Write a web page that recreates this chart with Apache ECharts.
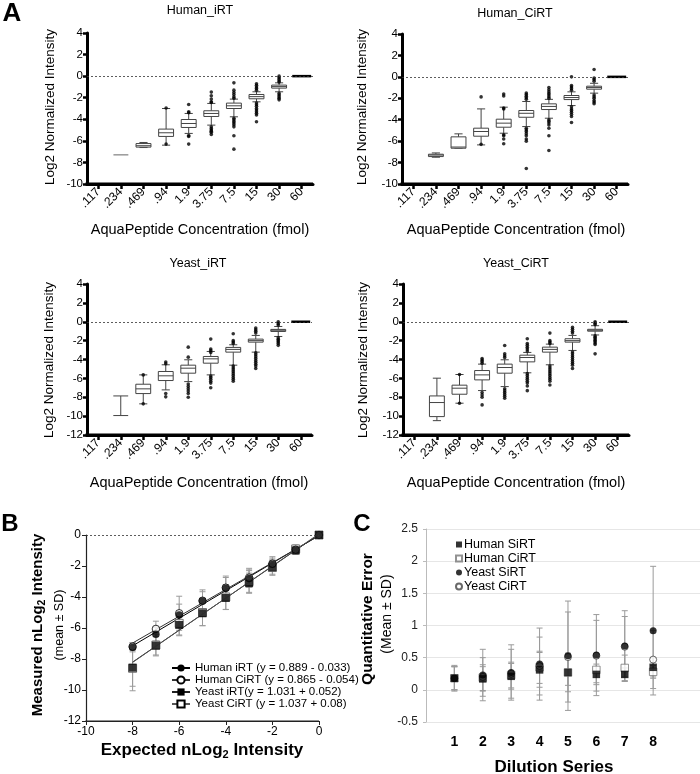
<!DOCTYPE html>
<html><head><meta charset="utf-8">
<script src="https://cdn.jsdelivr.net/npm/echarts@6/dist/echarts.min.js"></script>
<style>html,body{margin:0;padding:0;background:#fff}#c{width:700px;height:774px}</style>
</head><body><div id="c"></div>
<script>
const FONT = '"Liberation Sans", Arial, Helvetica, sans-serif';

// ---------- Panel A ----------
const concLabels = ['.117', '.234', '.469', '.94', '1.9', '3.75', '7.5', '15', '30', '60'];
const aTitles = ['Human_iRT', 'Human_CiRT', 'Yeast_iRT', 'Yeast_CiRT'];
const aYRangeTop = [-10, 4];
const aYRangeBottom = [-12, 4];

// [min, q1, median, q3, max] per concentration
const humanIRTBoxes = [
  null,
  [-7.3, -7.3, -7.3, -7.3, -7.3],
  [-6.62, -6.58, -6.45, -6.25, -6.15],
  [-6.4, -5.59, -5.25, -4.91, -3.0],
  [-5.31, -4.76, -4.39, -4.02, -3.46],
  [-4.54, -3.74, -3.46, -3.21, -2.53],
  [-3.77, -3.0, -2.75, -2.5, -2.13],
  [-2.38, -2.1, -1.9, -1.7, -1.45],
  [-1.45, -1.11, -0.97, -0.83, -0.62],
  [0, 0, 0, 0, 0]
];
const humanIRTOutliers = [
  [], [], [],
  [-2.95, -6.3],
  [-2.63, -3.3, -3.4, -5.5, -5.6, -6.3],
  [-1.48, -1.82, -2.13, -2.38, -2.45, -4.7, -4.85, -5.0, -5.1, -5.2, -5.4],
  [-0.62, -1.3, -1.51, -1.7, -1.92, -2.05, -3.9, -4.05, -4.2, -4.35, -4.5, -4.7, -5.53, -6.77],
  [-0.7, -0.85, -1.0, -1.15, -1.3, -2.5, -2.65, -2.8, -3.0, -3.15, -3.3, -3.45, -3.6, -4.23],
  [0.0, -0.15, -0.3, -0.45, -0.55, -1.6, -1.75, -1.9, -2.05, -2.2],
  []
];
const humanCiRTBoxes = [
  null,
  [-7.5, -7.44, -7.3, -7.22, -7.1],
  [-6.66, -6.66, -6.55, -5.6, -5.32],
  [-6.35, -5.54, -5.1, -4.79, -2.99],
  [-5.26, -4.7, -4.32, -3.95, -2.83],
  [-4.64, -3.77, -3.4, -3.14, -2.3],
  [-3.86, -3.05, -2.76, -2.52, -2.1],
  [-2.68, -2.12, -1.93, -1.74, -1.4],
  [-1.52, -1.15, -1.0, -0.87, -0.6],
  [0, 0, 0, 0, 0]
];
const humanCiRTOutliers = [
  [], [], [],
  [-1.87, -6.3],
  [-1.6, -1.78, -2.9, -3.0, -5.4, -5.5, -5.8, -6.25],
  [-1.5, -1.65, -1.8, -1.95, -2.1, -4.8, -4.95, -5.1, -5.3, -5.5, -5.8, -6.0, -8.56],
  [-1.0, -1.2, -1.4, -1.55, -1.7, -1.85, -2.0, -4.0, -4.15, -4.3, -4.5, -4.8, -5.5, -6.88],
  [0.0, -0.8, -0.95, -1.1, -1.25, -2.8, -3.0, -3.15, -3.3, -3.5, -3.7, -4.26],
  [0.68, -0.1, -0.25, -0.4, -1.7, -1.85, -2.0, -2.2, -2.35, -2.5],
  []
];
const yeastIRTBoxes = [
  null,
  [-9.94, -7.86, -7.86, -7.86, -7.86],
  [-8.7, -7.61, -7.11, -6.62, -5.63],
  [-7.22, -6.23, -5.73, -5.27, -4.56],
  [-6.34, -5.45, -4.92, -4.6, -4.03],
  [-5.63, -4.39, -3.93, -3.68, -3.15],
  [-4.6, -3.22, -2.93, -2.72, -2.44],
  [-3.22, -2.16, -2.0, -1.84, -1.45],
  [-1.56, -1.03, -0.9, -0.81, -0.5],
  [0, 0, 0, 0, 0]
];
const yeastIRTOutliers = [
  [], [],
  [-5.63, -8.7],
  [-4.27, -4.45, -7.6, -7.96],
  [-2.69, -3.75, -6.6, -6.85, -7.1, -7.35, -7.6, -8.0],
  [-1.84, -2.9, -3.05, -3.25, -5.75, -5.9, -6.1, -6.3, -6.5, -7.0],
  [-1.27, -2.0, -2.15, -2.3, -4.7, -4.9, -5.1, -5.3, -5.5, -5.7, -5.9, -6.1, -6.3],
  [-0.67, -0.85, -1.0, -1.2, -3.3, -3.5, -3.7, -3.9, -4.1, -4.3, -4.5, -4.7, -4.95],
  [0.0, -0.2, -0.35, -1.7, -1.85, -2.0, -2.15, -2.3, -2.5],
  []
];
const yeastCiRTBoxes = [
  null,
  [-10.48, -10.05, -8.56, -7.86, -5.98],
  [-8.63, -7.68, -7.04, -6.72, -5.59],
  [-7.29, -6.16, -5.63, -5.17, -4.49],
  [-6.87, -5.45, -4.85, -4.49, -4.03],
  [-5.41, -4.25, -3.79, -3.54, -3.25],
  [-4.56, -3.22, -2.93, -2.69, -2.37],
  [-3.04, -2.16, -2.0, -1.8, -1.45],
  [-1.4, -1.0, -0.9, -0.8, -0.42],
  [0, 0, 0, 0, 0]
];
const yeastCiRTOutliers = [
  [], [],
  [-5.59, -8.63],
  [-3.9, -4.05, -4.2, -4.4, -7.5, -7.75, -8.0, -8.81],
  [-2.51, -3.4, -3.6, -3.8, -7.1, -7.3, -7.5, -7.7, -7.9, -8.1],
  [-1.8, -2.3, -2.5, -2.7, -2.9, -3.1, -5.5, -5.7, -5.9, -6.1, -6.3, -6.5, -6.8, -7.3],
  [-1.2, -2.0, -2.15, -2.3, -4.7, -4.9, -5.1, -5.3, -5.5, -5.7, -5.9, -6.1, -6.3, -6.7],
  [-0.6, -0.8, -1.0, -1.2, -3.2, -3.4, -3.6, -3.8, -4.0, -4.2, -4.4, -4.6, -4.95],
  [0.0, -0.15, -0.3, -1.5, -1.65, -1.8, -1.95, -2.1, -2.25, -2.4, -3.4],
  []
];

// ---------- Panel B ----------
const expectedX = [-8, -7, -6, -5, -4, -3, -2, -1, 0];
const bNames = ['Human iRT (y = 0.889 - 0.033)', 'Human CiRT (y = 0.865 - 0.054)', 'Yeast iRT(y = 1.031 + 0.052)', 'Yeast CiRT (y = 1.037 + 0.08)'];
const bHumanIRT = [-7.24, -6.4, -5.16, -4.26, -3.44, -2.8, -1.89, -0.97, 0];
const bHumanCiRT = [-7.2, -6.06, -5.05, -4.24, -3.4, -2.75, -1.85, -0.95, 0];
const bYeastIRT = [-8.56, -7.14, -5.8, -5.05, -4.06, -3.11, -2.08, -1.0, 0];
const bYeastCiRT = [-8.6, -7.1, -5.7, -5.0, -4.0, -3.0, -2.1, -0.9, 0];
const bHumanIRTSD = [0.3, 0.45, 0.7, 0.6, 0.7, 0.55, 0.4, 0.2, 0];
const bHumanCiRTSD = [0.25, 0.5, 1.1, 0.7, 0.75, 0.6, 0.45, 0.2, 0];
const bYeastIRTSD = [1.2, 0.6, 0.7, 0.8, 0.75, 0.65, 0.45, 0.25, 0];
const bYeastCiRTSD = [1.45, 0.7, 0.75, 0.85, 0.8, 0.7, 0.5, 0.25, 0];
const fitX = [-8, 0];
const fitHumanIRT = [-7.15, -0.03];
const fitHumanCiRT = [-6.97, -0.05];
const fitYeastIRT = [-8.2, 0.05];
const fitYeastCiRT = [-8.22, 0.08];

// ---------- Panel C ----------
const dilution = [1, 2, 3, 4, 5, 6, 7, 8];
const cNames = ['Human SiRT', 'Human CiRT', 'Yeast SiRT', 'Yeast CiRT'];
const cHumanSiRT = [0.18, 0.17, 0.21, 0.31, 0.27, 0.24, 0.24, 0.35];
const cHumanCiRT = [0.18, 0.19, 0.23, 0.35, 0.27, 0.31, 0.34, 0.28];
const cYeastSiRT = [0.18, 0.23, 0.27, 0.40, 0.53, 0.54, 0.68, 0.92];
const cYeastCiRT = [0.18, 0.20, 0.25, 0.37, 0.51, 0.53, 0.67, 0.47];
const cHumanSiRTSD = [0.18, 0.19, 0.2, 0.27, 0.2, 0.16, 0.1, 0.15];
const cHumanCiRTSD = [0.18, 0.2, 0.2, 0.25, 0.3, 0.2, 0.2, 0.1];
const cYeastSiRTSD = [0.2, 0.4, 0.43, 0.56, 0.85, 0.63, 0.55, 1.0];
const cYeastCiRTSD = [0.18, 0.3, 0.38, 0.45, 0.7, 0.55, 0.47, 0.45];

// ---------- rendering helpers ----------
function ln(x1, y1, x2, y2, stroke, w) {
  return { type: 'line', shape: { x1, y1, x2, y2 }, style: { stroke: stroke, lineWidth: w || 1 } };
}
function renderBox(params, api) {
  const i = api.value(0);
  const v = [1, 2, 3, 4, 5].map(k => api.value(k));
  const p = v.map(val => api.coord([i, val]));
  const cx = p[0][0];
  const band = api.size([1, 0])[0];
  const bw = band * 0.66, cw = band * 0.36;
  const col = '#444';
  const ch = [];
  if (v[0] === v[4]) {
    const zero = v[0] === 0;
    ch.push(ln(cx - bw / 2 - (zero ? 2 : 0), p[0][1], cx + bw / 2 + (zero ? 2 : 0), p[0][1], zero ? '#000' : '#666', zero ? 2.5 : 1));
    return { type: 'group', children: ch };
  }
  const degenerate = v[1] === v[3];
  const capW = degenerate ? bw : cw;
  ch.push(ln(cx, p[4][1], cx, p[3][1], col));
  ch.push(ln(cx, p[1][1], cx, p[0][1], col));
  ch.push(ln(cx - capW / 2, p[4][1], cx + capW / 2, p[4][1], col));
  ch.push(ln(cx - capW / 2, p[0][1], cx + capW / 2, p[0][1], col));
  if (!degenerate) {
    ch.push({ type: 'rect', shape: { x: cx - bw / 2, y: p[3][1], width: bw, height: p[1][1] - p[3][1] },
      style: { fill: '#fff', stroke: col, lineWidth: 1 } });
    ch.push(ln(cx - bw / 2, p[2][1], cx + bw / 2, p[2][1], col));
  }
  return { type: 'group', children: ch };
}
function renderErr(params, api) {
  const x = api.value(0), m = api.value(1), s = api.value(2);
  if (!s) return null;
  const t = api.coord([x, m + s]), b = api.coord([x, m - s]);
  const c = '#9a9a9a', cw = 3;
  return { type: 'group', children: [
    ln(t[0], t[1], b[0], b[1], c),
    ln(t[0] - cw, t[1], t[0] + cw, t[1], c),
    ln(b[0] - cw, b[1], b[0] + cw, b[1], c)
  ] };
}

const grids = [
  { left: 87, top: 33, width: 226, height: 151 },
  { left: 402, top: 34, width: 226, height: 150 },
  { left: 87, top: 284, width: 225, height: 151 },
  { left: 403, top: 284, width: 226, height: 151 },
  { left: 86, top: 535, width: 233, height: 186 },
  { left: 426, top: 529, width: 274, height: 193 }
];

const xAxes = [], yAxes = [], series = [];
const aBoxes = [humanIRTBoxes, humanCiRTBoxes, yeastIRTBoxes, yeastCiRTBoxes];
const aOuts = [humanIRTOutliers, humanCiRTOutliers, yeastIRTOutliers, yeastCiRTOutliers];
for (let g = 0; g < 4; g++) {
  const yr = g < 2 ? aYRangeTop : aYRangeBottom;
  xAxes.push({
    type: 'category', gridIndex: g, data: concLabels,
    axisLine: { show: true, onZero: false, lineStyle: { color: '#000', width: 3 } },
    axisTick: { show: true, alignWithLabel: true, length: 5, lineStyle: { color: '#000', width: 2.5 } },
    axisLabel: { rotate: 45, fontSize: 12, color: '#000', margin: 6, fontFamily: FONT, interval: 0 }
  });
  yAxes.push({
    type: 'value', gridIndex: g, min: yr[0], max: yr[1], interval: 2,
    axisLine: { show: true, onZero: false, lineStyle: { color: '#000', width: 3 } },
    axisTick: { show: true, length: 4, lineStyle: { color: '#000', width: 2.5 } },
    axisLabel: { fontSize: 11.5, color: '#000', margin: 4, fontFamily: FONT },
    splitLine: { show: false }
  });
  const bd = [];
  aBoxes[g].forEach((b, i) => { if (b) bd.push([i].concat(b)); });
  series.push({ type: 'custom', xAxisIndex: g, yAxisIndex: g, renderItem: renderBox, data: bd,
    encode: { x: 0, y: [1, 2, 3, 4, 5] }, z: 2, silent: true });
  const od = [];
  aOuts[g].forEach((arr, i) => arr.forEach(v => od.push([i, v])));
  series.push({ type: 'scatter', xAxisIndex: g, yAxisIndex: g, data: od, symbol: 'circle', symbolSize: 3.6,
    itemStyle: { color: '#000' }, z: 3, silent: true,
    markLine: { silent: true, symbol: 'none', label: { show: false },
      data: [{ yAxis: 0, lineStyle: { type: [2, 2], color: '#333', width: 0.8 } }] } });
}

// Panel B axes
xAxes.push({ type: 'value', gridIndex: 4, min: -10, max: 0, interval: 2,
  axisLine: { show: true, onZero: false, lineStyle: { color: '#222', width: 1.2 } },
  axisTick: { show: true, length: 4, lineStyle: { color: '#222' } },
  axisLabel: { fontSize: 12, color: '#000', margin: 5, fontFamily: FONT },
  splitLine: { show: false } });
yAxes.push({ type: 'value', gridIndex: 4, min: -12, max: 0, interval: 2,
  axisLine: { show: true, onZero: false, lineStyle: { color: '#222', width: 1.2 } },
  axisTick: { show: true, length: 4, lineStyle: { color: '#222' } },
  axisLabel: { fontSize: 12, color: '#000', margin: 5, fontFamily: FONT },
  splitLine: { show: false } });

const bMeans = [bHumanIRT, bHumanCiRT, bYeastIRT, bYeastCiRT];
const bSDs = [bHumanIRTSD, bHumanCiRTSD, bYeastIRTSD, bYeastCiRTSD];
const bFits = [fitHumanIRT, fitHumanCiRT, fitYeastIRT, fitYeastCiRT];
const bSymbols = ['circle', 'circle', 'rect', 'rect'];
const bFill = ['#000', '#fff', '#000', '#fff'];
const bLineCol = ['#000', '#333', '#222', '#555'];
for (let k = 0; k < 4; k++) {
  series.push({ type: 'custom', xAxisIndex: 4, yAxisIndex: 4, renderItem: renderErr, silent: true, z: 2,
    data: expectedX.map((x, i) => [x, bMeans[k][i], bSDs[k][i]]), encode: { x: 0, y: 1 } });
}
for (let k = 0; k < 4; k++) {
  series.push({ type: 'line', name: bNames[k], xAxisIndex: 4, yAxisIndex: 4, z: 3, silent: true,
    data: fitX.map((x, i) => [x, bFits[k][i]]), showSymbol: false, symbol: bSymbols[k],
    itemStyle: { color: bFill[k], borderColor: '#000', borderWidth: bFill[k] === '#fff' ? 1 : 0 },
    lineStyle: { color: bLineCol[k], width: 1 }, animation: false,
    markLine: k === 0 ? { silent: true, symbol: 'none', label: { show: false },
      data: [{ yAxis: 0, lineStyle: { type: [2, 2], color: '#333', width: 0.8 } }] } : undefined });
}
const bOrder = [3, 2, 1, 0];
bOrder.forEach(k => {
  series.push({ type: 'scatter', name: 'pts' + k, xAxisIndex: 4, yAxisIndex: 4, z: 4, silent: true,
    data: expectedX.map((x, i) => [x, bMeans[k][i]]), symbol: bSymbols[k], symbolSize: bSymbols[k] === 'rect' ? 8 : 7.5,
    itemStyle: { color: bFill[k], borderColor: k === 3 ? '#555' : '#000', borderWidth: bFill[k] === '#fff' ? 1 : 0 } });
});

// Panel C axes
xAxes.push({ type: 'value', gridIndex: 5, min: 0, max: 9.65, interval: 1,
  axisLine: { show: false, onZero: false }, axisTick: { show: false }, splitLine: { show: false },
  axisLabel: { fontSize: 14, fontWeight: 'bold', color: '#000', margin: 13, fontFamily: FONT,
    formatter: v => (v >= 1 && v <= 8 ? String(v) : ''), showMaxLabel: false } });
yAxes.push({ type: 'value', gridIndex: 5, min: -0.5, max: 2.5, interval: 0.5,
  axisLine: { show: true, onZero: false, lineStyle: { color: '#bbb', width: 1 } },
  axisTick: { show: true, length: 3, lineStyle: { color: '#bbb' } },
  axisLabel: { fontSize: 12, color: '#222', margin: 8, fontFamily: FONT },
  splitLine: { show: true, lineStyle: { color: '#e6e6e6', width: 1 } } });

const cMeans = [cHumanSiRT, cHumanCiRT, cYeastSiRT, cYeastCiRT];
const cSDs = [cHumanSiRTSD, cHumanCiRTSD, cYeastSiRTSD, cYeastCiRTSD];
const cSym = ['rect', 'rect', 'circle', 'circle'];
const cFill = ['#000', '#fff', '#000', '#fff'];
for (let k = 0; k < 4; k++) {
  series.push({ type: 'custom', xAxisIndex: 5, yAxisIndex: 5, renderItem: renderErr, silent: true, z: 2,
    data: dilution.map((x, i) => [x, cMeans[k][i], cSDs[k][i]]), encode: { x: 0, y: 1 } });
}
[1, 3, 2, 0].forEach(k => {
  series.push({ type: 'scatter', name: cNames[k], xAxisIndex: 5, yAxisIndex: 5, z: 4, silent: true,
    data: dilution.map((x, i) => [x, cMeans[k][i]]), symbol: cSym[k], symbolSize: cSym[k] === 'rect' ? 7.5 : 7,
    itemStyle: { color: cFill[k], borderColor: k === 1 ? '#777' : '#444', borderWidth: cFill[k] === '#fff' ? 1 : 0 } });
});

// ---------- text ----------
function txt(text, x, y, size, opts) {
  opts = opts || {};
  const st = { text: text, fontSize: size, fontFamily: FONT, fontWeight: opts.bold ? 'bold' : 'normal',
    fill: '#000', align: 'center', verticalAlign: 'middle' };
  if (opts.rich) st.rich = opts.rich;
  return { type: 'text', x: x, y: y, rotation: opts.rot || 0, silent: true, style: st };
}
const R = Math.PI / 2;
const graphics = [
  txt('A', 12, 14, 26, { bold: true }),
  txt(aTitles[0], 200, 11, 12.5),
  txt(aTitles[1], 515, 14, 12.5),
  txt(aTitles[2], 198, 264, 12.5),
  txt(aTitles[3], 516, 264, 12.5),
  txt('Log2 Normalized Intensity', 50, 107, 13.5, { rot: R }),
  txt('Log2 Normalized Intensity', 362, 107, 13.5, { rot: R }),
  txt('Log2 Normalized Intensity', 49, 360, 13.5, { rot: R }),
  txt('Log2 Normalized Intensity', 363, 360, 13.5, { rot: R }),
  txt('AquaPeptide Concentration (fmol)', 200, 230, 14.5),
  txt('AquaPeptide Concentration (fmol)', 516, 230, 14.5),
  txt('AquaPeptide Concentration (fmol)', 199, 483, 14.5),
  txt('AquaPeptide Concentration (fmol)', 516, 483, 14.5),
  txt('B', 10, 524, 24, { bold: true }),
  txt('C', 362, 524, 24, { bold: true }),
  txt('{b|Measured nLog}{s|2}{b| Intensity}', 38, 625, 15, { rot: R, bold: true,
    rich: { b: { fontSize: 15, fontWeight: 'bold', fontFamily: FONT, lineHeight: 19 },
            s: { fontSize: 10.5, fontWeight: 'bold', fontFamily: FONT, lineHeight: 11, verticalAlign: 'bottom' } } }),
  txt('(mean ± SD)', 60, 625, 12.5, { rot: R }),
  txt('{b|Expected nLog}{s|2}{b| Intensity}', 202, 750, 16, { bold: true,
    rich: { b: { fontSize: 17, fontWeight: 'bold', fontFamily: FONT, lineHeight: 20 },
            s: { fontSize: 11, fontWeight: 'bold', fontFamily: FONT, lineHeight: 11, verticalAlign: 'bottom' } } }),
  txt('Quantitative Error', 368, 619, 15.5, { rot: R, bold: true }),
  txt('(Mean ± SD)', 387, 614, 14, { rot: R }),
  txt('Dilution Series', 554, 767, 17, { bold: true })
];

// axis baselines along each grid's bottom edge (layout, drawn on a top layer)
for (let g = 0; g < 5; g++) {
  const gr = grids[g];
  const thick = g < 4 ? 3 : 1.2;
  graphics.push({ type: 'rect', zlevel: 1, z: 100, silent: true,
    shape: { x: gr.left - (g < 4 ? 1.5 : 0.6), y: gr.top + gr.height - thick / 2, width: gr.width + (g < 4 ? 1.5 : 0.6), height: thick },
    style: { fill: g < 4 ? '#000' : '#222' } });
}

const chart = echarts.init(document.getElementById('c'), null, { renderer: 'canvas' });
chart.setOption({
  animation: false,
  backgroundColor: '#fff',
  textStyle: { fontFamily: FONT },
  grid: grids,
  xAxis: xAxes,
  yAxis: yAxes,
  legend: [
    { data: bNames, orient: 'vertical', left: 166, top: 657, itemWidth: 18, itemHeight: 9, itemGap: 0,
      textStyle: { fontSize: 11.5, color: '#000', fontFamily: FONT }, selectedMode: false },
    { data: [cNames[0], cNames[1], cNames[2], cNames[3]], orient: 'vertical', left: 450, top: 533,
      itemWidth: 6, itemHeight: 6, itemGap: 1, textStyle: { fontSize: 12.5, color: '#000', fontFamily: FONT, padding: [0, 0, 0, -3] },
      selectedMode: false }
  ],
  graphic: graphics,
  series: series
});
</script>
</body></html>
